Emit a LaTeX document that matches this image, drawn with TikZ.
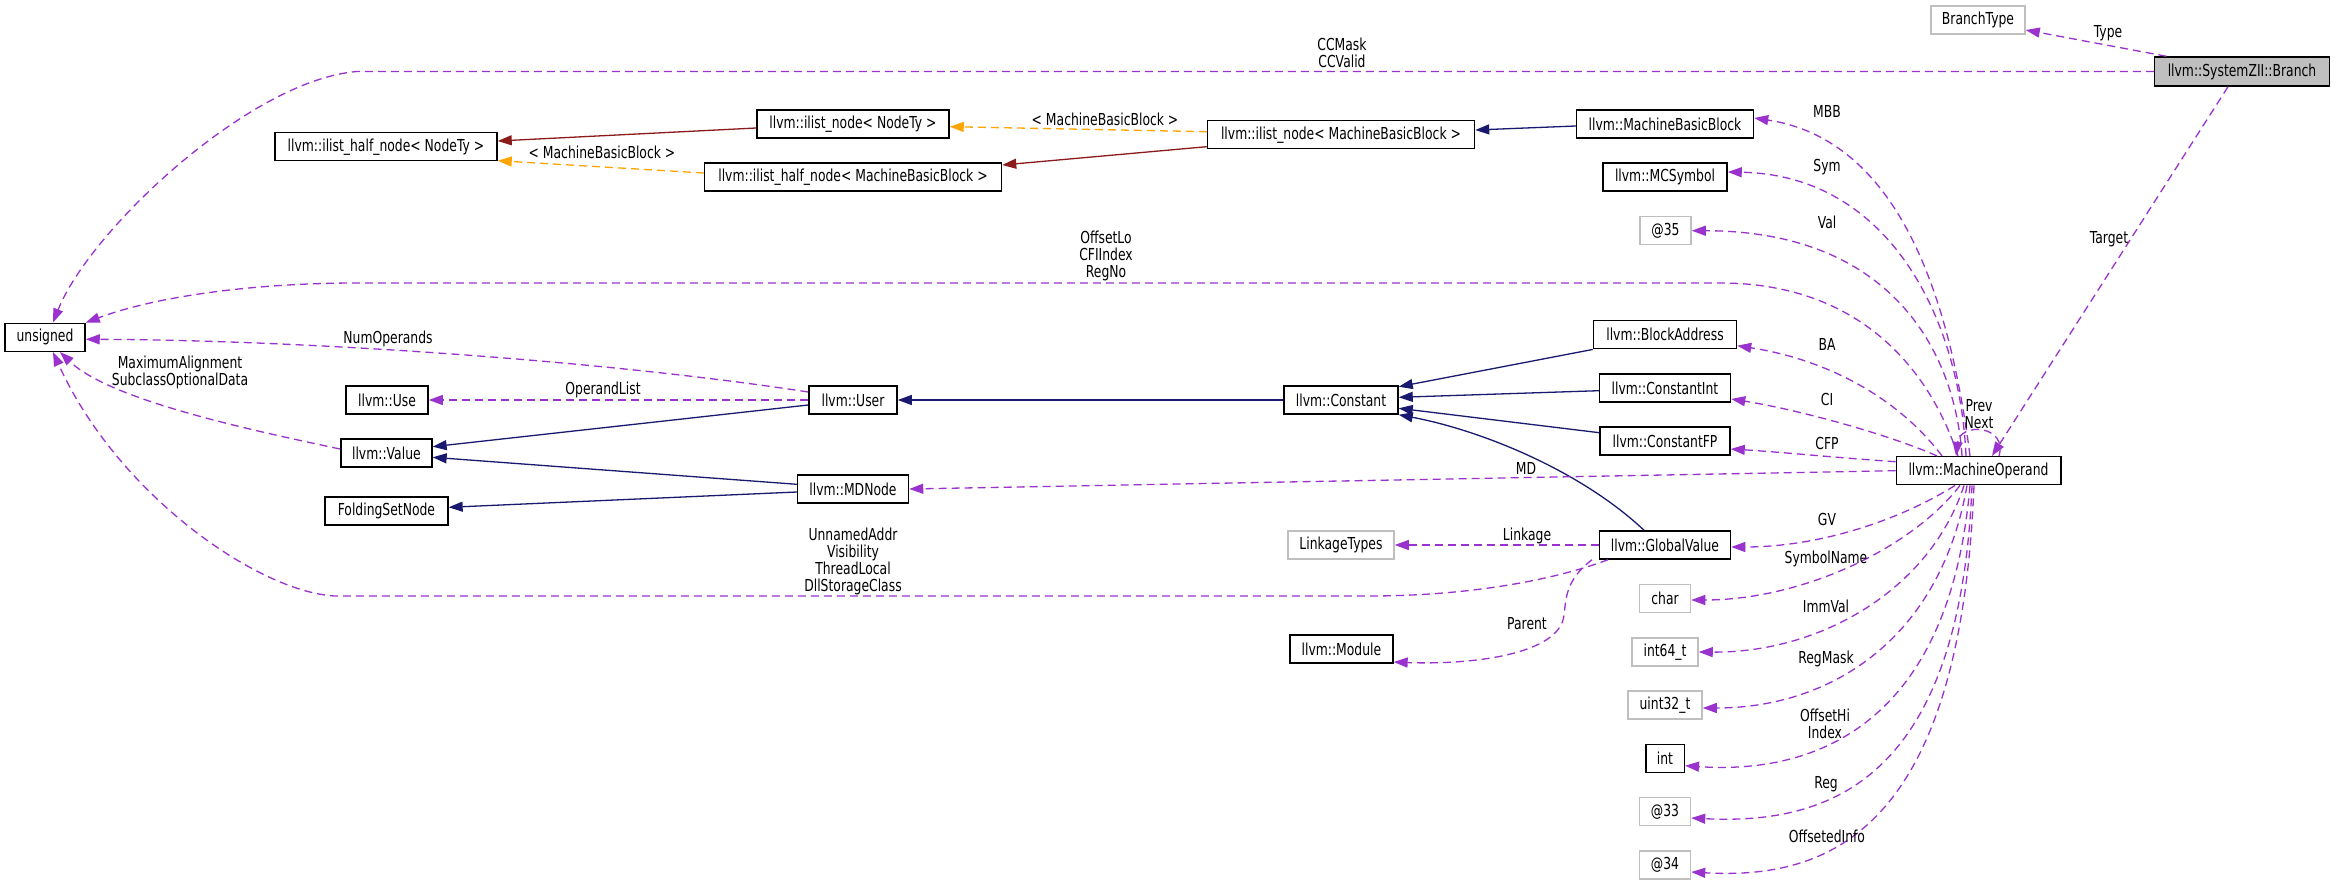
\documentclass[tikz,border=0pt]{standalone}
\usepackage{fontspec}
\setmainfont{DejaVu Sans}[FakeStretch=0.75]
\usetikzlibrary{arrows.meta}
\definecolor{dpurple}{HTML}{9A32CD}
\definecolor{dnavy}{HTML}{191970}
\definecolor{dred}{HTML}{8B1A1A}
\definecolor{dorange}{HTML}{FFA500}
\definecolor{lgray}{HTML}{BFBFBF}
\begin{document}
\begin{tikzpicture}[x=1pt,y=-1pt,
  font=\fontsize{16.5pt}{17pt}\selectfont,
  box/.style={draw=black, line width=1.5pt, fill=white, minimum height=28pt, inner sep=0pt},
  gbox/.style={box, draw=lgray},
  tiphead/.style={-{Triangle[length=14pt,width=10pt]}},
  dep/.style={tiphead, draw=dpurple, fill=none, line width=1.3pt, dash pattern=on 8pt off 5pt},
  inh/.style={tiphead, draw=dnavy, line width=1.3pt},
  inhred/.style={tiphead, draw=dred, line width=1.3pt},
  tpl/.style={tiphead, draw=dorange, line width=1.3pt, dash pattern=on 8pt off 5pt},
  lbl/.style={inner sep=0pt, align=center}]
\useasboundingbox (0,0) rectangle (2336,885);
\fill[white] (0,0) rectangle (2336,885);

% nodes
\node[gbox, minimum width=94pt] (btype) at (1978,20) {BranchType};
\node[box, fill=lgray, minimum width=175pt, minimum height=29pt] (branch) at (2242,71.5) {llvm::SystemZII::Branch};
\node[box, minimum width=222pt] (ihnt) at (386,146.7) {llvm::ilist\_half\_node< NodeTy >};
\node[box, minimum width=192pt] (inT) at (853,124) {llvm::ilist\_node< NodeTy >};
\node[box, minimum width=267pt] (inMBB) at (1341,134.7) {llvm::ilist\_node< MachineBasicBlock >};
\node[box, minimum width=297pt] (ihMBB) at (853,177) {llvm::ilist\_half\_node< MachineBasicBlock >};
\node[box, minimum width=177pt] (mbb) at (1665,124) {llvm::MachineBasicBlock};
\node[box, minimum width=124pt] (mcs) at (1665,177) {llvm::MCSymbol};
\node[gbox, minimum width=51pt] (a35) at (1665.5,230.7) {@35};
\node[box, minimum width=80pt] (uns) at (45,337.3) {unsigned};
\node[box, minimum width=82pt] (use) at (387,400) {llvm::Use};
\node[box, minimum width=88pt] (user) at (853,400) {llvm::User};
\node[box, minimum width=91pt] (value) at (386.4,453) {llvm::Value};
\node[box, minimum width=111pt] (mdn) at (853,489) {llvm::MDNode};
\node[box, minimum width=123pt] (fsn) at (386.4,511) {FoldingSetNode};
\node[box, minimum width=114pt] (cst) at (1341,400) {llvm::Constant};
\node[box, minimum width=143pt] (ba) at (1665,334.7) {llvm::BlockAddress};
\node[box, minimum width=131pt] (ci) at (1665,388) {llvm::ConstantInt};
\node[box, minimum width=130pt] (cfp) at (1665,441) {llvm::ConstantFP};
\node[box, minimum width=164.5pt] (mo) at (1978.5,470.7) {llvm::MachineOperand};
\node[gbox, minimum width=106pt] (lt) at (1341,545) {LinkageTypes};
\node[box, minimum width=131pt] (gv) at (1665,545) {llvm::GlobalValue};
\node[box, minimum width=103pt] (mod) at (1341.4,649) {llvm::Module};
\node[gbox, minimum width=51pt] (chr) at (1665,598.5) {char};
\node[gbox, minimum width=66pt] (i64) at (1665,652) {int64\_t};
\node[gbox, minimum width=74pt] (u32) at (1665,705) {uint32\_t};
\node[box, minimum width=38.5pt] (nint) at (1665,758.7) {int};
\node[gbox, minimum width=51pt] (a33) at (1665,811.5) {@33};
\node[gbox, minimum width=51pt] (a34) at (1665,865) {@34};

% inheritance and template edges
\draw[inh] ([yshift=-2pt]mbb.west) -- ([yshift=4.7pt]inMBB.east);
\draw[tpl] ([yshift=3pt]inMBB.west) -- ([yshift=-2.7pt]inT.east);
\draw[inhred] ([yshift=-12pt]inMBB.west) -- ([yshift=12pt]ihMBB.east);
\draw[inhred] ([yshift=-4pt]inT.west) -- ([yshift=5.7pt]ihnt.east);
\draw[tpl] ([yshift=4pt]ihMBB.west) -- ([yshift=-14pt]ihnt.east);
\draw[inh] (cst.west) -- (user.east);
\draw[inh] ([yshift=-5pt]user.west) -- ([yshift=6.3pt]value.east);
\draw[inh] ([yshift=4.7pt]mdn.west) -- ([yshift=-4.3pt]value.east);
\draw[inh] ([yshift=-3pt]mdn.west) -- ([yshift=3.7pt]fsn.east);
\draw[inh] (ba.south west) -- ([yshift=13.3pt]cst.east);
\draw[inh] ([yshift=-2.7pt]ci.west) -- ([yshift=2.7pt]cst.east);
\draw[inh] ([yshift=8.3pt]cfp.west) -- ([yshift=-8.3pt]cst.east);
\draw[inh] ([xshift=-21pt]gv.north) .. controls (1580,470) and (1480,430) .. (cst.south east);

% dependency edges
\draw[dep] ([xshift=12.5pt]branch.north west) -- ([yshift=-10pt]btype.east);
\draw[dep] (branch.west) -- (357,71.5) .. controls (250,80) and (90,230) .. ([xshift=8pt]uns.north);
\draw[dep] ([xshift=-14pt]branch.south) -- ([xshift=13.5pt]mo.north);
\draw[dep] ([xshift=-8.5pt]mo.north) .. controls (1950,300) and (1900,140) .. ([yshift=6pt]mbb.east);
\draw[dep] ([xshift=-12.5pt]mo.north) .. controls (1960,320) and (1890,175) .. ([yshift=5pt]mcs.east);
\draw[dep] ([xshift=-16.5pt]mo.north) .. controls (1955,350) and (1890,231) .. (a35.east);
\draw[dep] ([xshift=-20.5pt]mo.north) .. controls (1930,370) and (1860,283) .. (1720,283) -- (357,283) .. controls (260,283) and (160,295) .. (uns.north east);
\draw[dep] ([xshift=-36.5pt]mo.north) .. controls (1900,400) and (1830,360) .. ([yshift=-11pt]ba.east);
\draw[dep] ([xshift=-41.5pt]mo.north) .. controls (1890,435) and (1800,410) .. ([yshift=-11pt]ci.east);
\draw[dep] ([yshift=9pt]mo.west) .. controls (1840,458) and (1780,452) .. ([yshift=-8pt]cfp.east);
\draw[dep] (mo.west) -- (mdn.east);
\draw[dep] ([xshift=20.5pt]mo.north) .. controls (2008,425) and (1960,422) .. ([xshift=-22.5pt]mo.north);
\draw[dep] ([xshift=-23.5pt]mo.south) .. controls (1900,520) and (1820,547) .. ([yshift=-2pt]gv.east);
\draw[dep] ([xshift=-18.5pt]mo.south) .. controls (1910,550) and (1800,600) .. ([yshift=-1.5pt]chr.east);
\draw[dep] ([xshift=-14.5pt]mo.south) .. controls (1930,590) and (1820,653) .. (i64.east);
\draw[dep] ([xshift=-11.5pt]mo.south) .. controls (1940,640) and (1830,708) .. ([yshift=-3pt]u32.east);
\draw[dep] ([xshift=-8.5pt]mo.south) .. controls (1950,720) and (1820,775) .. ([yshift=-7pt]nint.east);
\draw[dep] ([xshift=-6.5pt]mo.south) .. controls (1960,780) and (1830,825) .. ([yshift=-6.5pt]a33.east);
\draw[dep] ([xshift=-4.5pt]mo.south) .. controls (1960,830) and (1830,880) .. ([yshift=-7pt]a34.east);
\draw[dep] ([yshift=8pt]user.west) .. controls (600,360) and (300,340) .. ([yshift=-2pt]uns.east);
\draw[dep] (user.west) -- (use.east);
\draw[dep] ([yshift=4pt]value.west) .. controls (250,430) and (110,400) .. ([xshift=15pt]uns.south);
\draw[dep] (gv.west) -- (lt.east);
\draw[dep] ([xshift=-57pt]gv.south) .. controls (1540,585) and (1450,596) .. (1370,596) -- (344,596) .. controls (270,600) and (120,500) .. ([xshift=8pt]uns.south);
\draw[dep] ([xshift=-73pt]gv.south) .. controls (1565,580) and (1566,600) .. (1564,615) .. controls (1560,655) and (1470,665) .. ([yshift=-13pt]mod.east);

% labels
\node[lbl] (lType) at (2108,33) {Type};
\node[lbl] (lCC) at (1342,53) {CCMask\\CCValid};
\node[lbl] (lTarget) at (2109,239) {Target};
\node[lbl] (lT1) at (1105,119.3) {< MachineBasicBlock >};
\node[lbl] (lT2) at (602,152) {< MachineBasicBlock >};
\node[lbl] (lMBB) at (1827,111.7) {MBB};
\node[lbl] (lSym) at (1827,166.7) {Sym};
\node[lbl] (lVal) at (1827,222) {Val};
\node[lbl] (lOff) at (1106,255.7) {OffsetLo\\CFIIndex\\RegNo};
\node[lbl] (lNum) at (388,339.3) {NumOperands};
\node[lbl] (lMax) at (180,372) {MaximumAlignment\\SubclassOptionalData};
\node[lbl] (lOp) at (603,390.3) {OperandList};
\node[lbl] (lBA) at (1827,344.3) {BA};
\node[lbl] (lCI) at (1827,399.3) {CI};
\node[lbl] (lCFP) at (1827,443.3) {CFP};
\node[lbl] (lPN) at (1979,413.7) {Prev\\Next};
\node[lbl] (lMD) at (1526,468.7) {MD};
\node[lbl] (lLink) at (1527,535.7) {Linkage};
\node[lbl] (lUn) at (853,561.5) {UnnamedAddr\\Visibility\\ThreadLocal\\DllStorageClass};
\node[lbl] (lPar) at (1527,623.7) {Parent};
\node[lbl] (lGV) at (1827,519.3) {GV};
\node[lbl] (lSN) at (1826,558.5) {SymbolName};
\node[lbl] (lImm) at (1826,606.7) {ImmVal};
\node[lbl] (lRM) at (1826,659.3) {RegMask};
\node[lbl] (lOH) at (1825,723.6) {OffsetHi\\Index};
\node[lbl] (lReg) at (1826,784) {Reg};
\node[lbl] (lOI) at (1827,836) {OffsetedInfo};
\end{tikzpicture}
\end{document}
